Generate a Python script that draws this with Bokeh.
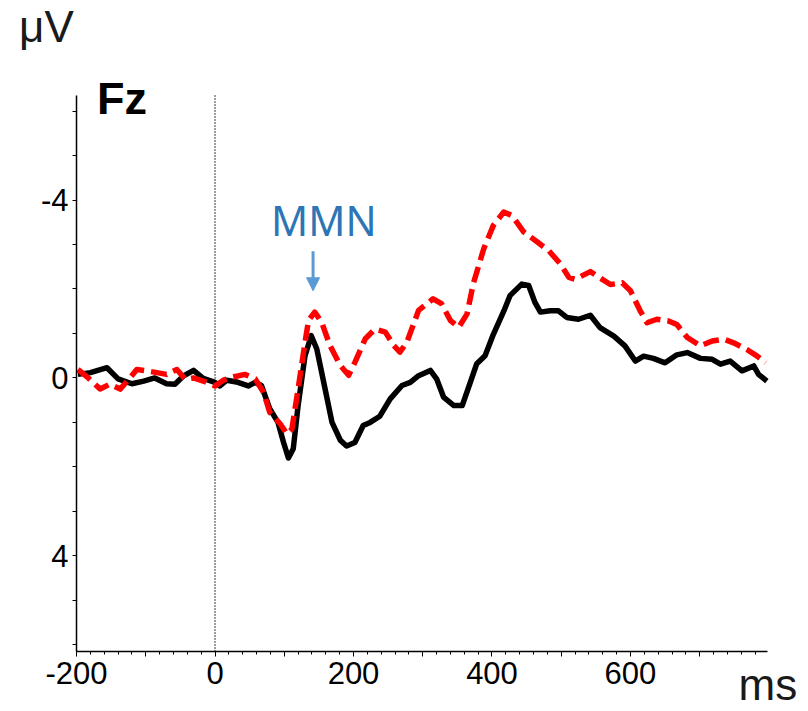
from bokeh.plotting import figure
from bokeh.models import Range1d, FixedTicker, Label, Arrow, NormalHead, LinearAxis
from bokeh.embed import file_html
from bokeh.resources import INLINE

# ---- data (ms, µV) ----
black_t = [-198, -180, -156, -140, -120, -103, -87, -70, -58, -46,
           -31, -17, 0, 7, 17, 31, 48, 58, 67, 79,
           91, 99, 106, 113, 120, 130, 139, 147, 157, 169,
           181, 190, 202, 214, 224, 238, 253, 270, 282, 294,
           311, 320, 330, 345, 357, 368, 378, 390, 402, 417,
           426, 443, 453, 462, 470, 484, 496, 508, 525, 542,
           556, 576, 592, 607, 619, 633, 650, 667, 682, 701,
           718, 730, 744, 761, 778, 785, 797]
black_v = [-0.08, -0.12, -0.23, 0.02, 0.13, 0.07, 0.0, 0.13, 0.14, -0.04,
           -0.17, 0.01, 0.1, 0.18, 0.05, 0.09, 0.18, 0.1, 0.17, 0.69,
           1.0, 1.45, 1.8, 1.59, 0.62, -0.5, -0.95, -0.65, 0.1, 1.0,
           1.4, 1.53, 1.45, 1.07, 1.0, 0.86, 0.47, 0.17, 0.1, -0.05,
           -0.17, 0.02, 0.43, 0.62, 0.62, 0.13, -0.32, -0.5, -0.98, -1.5,
           -1.85, -2.11, -2.08, -1.7, -1.48, -1.51, -1.51, -1.36, -1.32, -1.41,
           -1.13, -0.94, -0.72, -0.38, -0.49, -0.44, -0.34, -0.52, -0.57, -0.44,
           -0.42, -0.31, -0.38, -0.16, -0.27, -0.08, 0.07]

red_t = [-198, -183, -166, -152, -137, -123, -113, -99, -84, -70,
         -55, -43, -31, -17, 0, 12, 26, 43, 58, 70,
         79, 94, 104, 111, 120, 130, 135, 144, 154, 166,
         181, 193, 202, 217, 231, 246, 258, 267, 277, 294,
         315, 327, 340, 352, 364, 373, 388, 402, 417, 429,
         446, 466, 482, 499, 511, 520, 542, 556, 571, 588,
         600, 614, 624, 638, 655, 667, 682, 701, 718, 735,
         749, 768, 783, 795]
red_v = [-0.19, 0.0, 0.25, 0.14, 0.25, 0.0, -0.19, -0.16, -0.12, -0.08,
         -0.19, 0.03, 0.0, 0.07, 0.18, 0.05, -0.02, -0.08, 0.02, 0.32,
         0.77, 1.03, 1.26, 1.15, 0.25, -0.8, -1.29, -1.48, -1.25, -0.73,
         -0.28, -0.06, -0.35, -0.88, -1.1, -1.03, -0.73, -0.58, -0.8, -1.52,
         -1.78, -1.67, -1.29, -1.14, -1.44, -2.12, -2.9, -3.43, -3.73, -3.65,
         -3.28, -3.05, -2.86, -2.56, -2.26, -2.22, -2.39, -2.25, -2.1, -2.14,
         -1.96, -1.51, -1.24, -1.32, -1.28, -1.2, -0.91, -0.72, -0.83, -0.87,
         -0.79, -0.64, -0.49, -0.34]

x_ticks = [-200, -100, 0, 100, 200, 300, 400, 500, 600, 700]
x_minor = list(range(-200, 800, 20))
x_labels = {-200: "-200", 0: "0", 200: "200", 400: "400", 600: "600"}
y_ticks = [-6, -5, -4, -3, -2, -1, 0, 1, 2, 3, 4, 5, 6]
y_labels = {-4: "-4", 0: "0", 4: "4"}

# axis extents (data units)
x_lo, x_hi = -200, 798
y_lo, y_hi = -6.35, 6.15
stim_onset = 0

FONT = "Liberation Sans"

# the frame covers the whole canvas; axes are drawn at fixed data locations
p = figure(width=808, height=711, output_backend="svg", toolbar_location=None,
           x_range=Range1d(-309.8, 857.1), y_range=Range1d(7.498, -8.485),
           x_axis_location=None, y_axis_location=None,
           min_border_left=0, min_border_right=0, min_border_top=0, min_border_bottom=0)
p.outline_line_color = None
p.xgrid.visible = False
p.ygrid.visible = False
p.background_fill_color = "white"
p.border_fill_color = "white"

xa = LinearAxis(fixed_location=y_hi, bounds=(x_lo, x_hi))
xa.ticker = FixedTicker(ticks=x_ticks, minor_ticks=x_minor)
xa.major_label_overrides = {t: x_labels.get(t, "") for t in x_ticks}
xa.axis_line_width = 1.5
xa.major_tick_in = 0
xa.major_tick_out = 5
xa.minor_tick_in = 0
xa.minor_tick_out = 3
xa.major_label_text_font = FONT
xa.major_label_text_font_size = "31px"
xa.major_label_text_color = "black"
xa.major_label_standoff = 5
p.add_layout(xa, "below")

ya = LinearAxis(fixed_location=x_lo, bounds=(y_lo, y_hi))
ya.ticker = FixedTicker(ticks=y_ticks, minor_ticks=[])
ya.major_label_overrides = {t: y_labels.get(t, "") for t in y_ticks}
ya.axis_line_width = 1.5
ya.major_tick_in = 0
ya.major_tick_out = 4
ya.minor_tick_in = 0
ya.minor_tick_out = 0
ya.major_label_text_font = FONT
ya.major_label_text_font_size = "31px"
ya.major_label_text_color = "black"
ya.major_label_standoff = 4
p.add_layout(ya, "left")

# stimulus onset line
p.line([stim_onset, stim_onset], [y_lo, y_hi], line_color="black",
       line_width=1.5, line_dash="1 2")

p.line(black_t, black_v, line_color="black", line_width=5.5, line_join="round")
p.line(red_t, red_v, line_color="#ff0000", line_width=5.5, line_join="round",
       line_dash="16 7")

# labels
p.add_layout(Label(x=-283, y=-7.9, text="μV", text_font=FONT, text_font_size="44px",
                   text_color="#1a1a1a", text_baseline="alphabetic", text_align="left"))
p.add_layout(Label(x=756, y=6.9, text="ms", text_font=FONT, text_font_size="44px",
                   text_color="#1a1a1a", text_baseline="alphabetic", text_align="left"))
p.add_layout(Label(x=-170.5, y=-6.28, text="Fz", text_font=FONT, text_font_size="45px",
                   text_font_style="bold", text_color="black",
                   text_baseline="alphabetic", text_align="left"))
p.add_layout(Label(x=81, y=-3.55, text="MMN", text_font="Noto Sans", text_font_size="41px",
                   text_color="#2E75B6", text_baseline="alphabetic", text_align="left"))
p.add_layout(Arrow(end=NormalHead(size=13, fill_color="#5B9BD5", line_color="#5B9BD5"),
                   x_start=141.6, y_start=-2.85, x_end=141.6, y_end=-1.96,
                   line_color="#5B9BD5", line_width=3))

open("out.html", "w").write(file_html(p, INLINE))
